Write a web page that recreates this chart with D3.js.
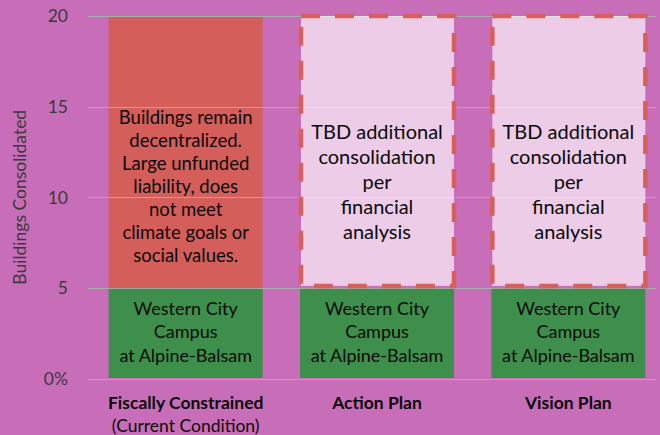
<!DOCTYPE html>
<html>
<head>
<meta charset="utf-8">
<script src="https://cdn.jsdelivr.net/npm/d3@7"></script>
<style>
  html, body { margin: 0; padding: 0; background: #c86eb9; }
  svg { display: block; font-family: Lato, "Noto Sans", sans-serif; }
</style>
</head>
<body>
<svg id="chart" width="660" height="435"></svg>
<script>
// chart values
const categories = ['Fiscally Constrained', 'Action Plan', 'Vision Plan'];
const subLabels = ['(Current Condition)', '', ''];
const campusValues = [5, 5, 5];
const remainingValues = [15, 15, 15];
const remainingKind = ['current', 'tbd', 'tbd'];
const yTicks = [0, 5, 10, 15, 20];
const yTickLabels = ['0%', '5', '10', '15', '20'];
const campusText = ['Western City', 'Campus', 'at Alpine-Balsam'];
const currentText = ['Buildings remain', 'decentralized.', 'Large unfunded',
  'liability, does', 'not meet', 'climate goals or', 'social values.'];
const tbdText = ['TBD additional', 'consolidation', 'per', 'financial', 'analysis'];

const svg = d3.select('#chart');

const x = d3.scaleBand()
  .domain(categories)
  .range([90, 664])
  .paddingInner(0.195)
  .paddingOuter(0.0975);

const y = d3.scaleLinear()
  .domain([0, 20])
  .range([378.5, 16]);

const gridLeft = 88, gridRight = 656;

// red "current" bar goes under the grid lines
svg.append('g')
  .selectAll('rect')
  .data(categories.filter((c, i) => remainingKind[i] === 'current'))
  .join('rect')
  .attr('x', (d) => x(d))
  .attr('width', x.bandwidth())
  .attr('y', (d) => y(campusValues[categories.indexOf(d)] + remainingValues[categories.indexOf(d)]))
  .attr('height', (d) => {
    const i = categories.indexOf(d);
    return y(campusValues[i]) - y(campusValues[i] + remainingValues[i]);
  })
  .attr('fill', '#d45e5a');

// grid lines
svg.append('g')
  .selectAll('line')
  .data(yTicks)
  .join('line')
  .attr('x1', gridLeft)
  .attr('x2', gridRight)
  .attr('y1', (d) => Math.round(y(d)) + 0.5)
  .attr('y2', (d) => Math.round(y(d)) + 0.5)
  .attr('stroke', '#ababab')
  .attr('stroke-width', 1.2);

// y tick labels
svg.append('g')
  .selectAll('text')
  .data(yTicks)
  .join('text')
  .attr('x', 68)
  .attr('y', (d) => y(d))
  .attr('dy', '0.36em')
  .attr('text-anchor', 'end')
  .attr('fill', '#3a3a3a')
  .attr('font-size', 17.5)
  .text((d, i) => yTickLabels[i]);

svg.append('text')
  .attr('transform', `translate(26,${y(10)}) rotate(-90)`)
  .attr('text-anchor', 'middle')
  .attr('fill', '#3a3a3a')
  .attr('font-size', 17.5)
  .text('Buildings Consolidated');

// green campus bars
svg.append('g')
  .selectAll('rect')
  .data(categories)
  .join('rect')
  .attr('x', (d) => x(d))
  .attr('width', x.bandwidth())
  .attr('y', (d, i) => y(campusValues[i]) + 1)
  .attr('height', (d, i) => y(0) - y(campusValues[i]) - 1.5)
  .attr('fill', '#3e8f4b');

// dashed TBD boxes
svg.append('g')
  .selectAll('rect')
  .data(categories.filter((c, i) => remainingKind[i] === 'tbd'))
  .join('rect')
  .attr('x', (d) => x(d) + 1)
  .attr('width', x.bandwidth() - 1)
  .attr('y', (d) => y(campusValues[categories.indexOf(d)] + remainingValues[categories.indexOf(d)]))
  .attr('height', (d) => {
    const i = categories.indexOf(d);
    return y(campusValues[i]) - y(campusValues[i] + remainingValues[i]) - 2;
  })
  .attr('fill', 'rgba(255,255,255,0.65)')
  .attr('stroke', '#d95f5b')
  .attr('stroke-width', 4.5)
  .attr('stroke-dasharray', '19,15');

// text inside bars
function writeLines(g, lines, cx, cy, lh, size) {
  g.append('text')
    .attr('text-anchor', 'middle')
    .attr('font-size', size)
    .attr('fill', '#0a0a0a')
    .selectAll('tspan')
    .data(lines)
    .join('tspan')
    .attr('x', cx)
    .attr('y', (d, i) => cy + (i - (lines.length - 1) / 2) * lh)
    .attr('dy', '0.35em')
    .text((d) => d);
}

const labels = svg.append('g');
categories.forEach((c, i) => {
  const cx = x(c) + x.bandwidth() / 2;
  writeLines(labels, campusText, cx, y(campusValues[i] / 2) - 1, 23.3, 18);
  if (remainingKind[i] === 'current') {
    writeLines(labels, currentText, cx, y(10.6), 23, 18.5);
  } else {
    writeLines(labels, tbdText, cx, y(10.85), 25, 20);
  }
});

// category labels
const cat = svg.append('g')
  .selectAll('g')
  .data(categories)
  .join('g')
  .attr('transform', (d) => `translate(${x(d) + x.bandwidth() / 2},0)`);

cat.append('text')
  .attr('y', 403)
  .attr('dy', '0.35em')
  .attr('text-anchor', 'middle')
  .attr('font-weight', 'bold')
  .attr('font-size', 17.5)
  .attr('fill', '#0a0a0a')
  .text((d) => d);

cat.append('text')
  .attr('y', 426)
  .attr('dy', '0.35em')
  .attr('text-anchor', 'middle')
  .attr('font-size', 17.5)
  .attr('fill', '#0a0a0a')
  .text((d, i) => subLabels[i]);
</script>
</body>
</html>
